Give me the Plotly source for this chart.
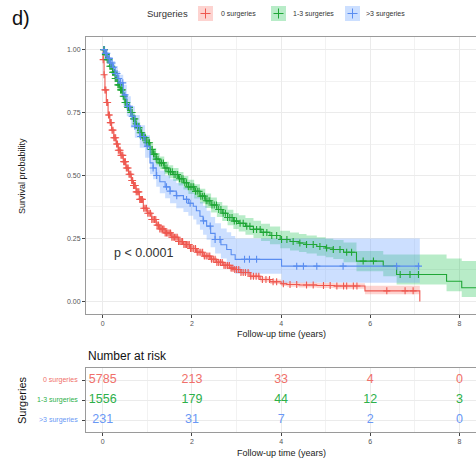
import numpy as np
import plotly.graph_objects as go

# ---------------- data ----------------
groups = ["0 surgeries", "1-3 surgeries", ">3 surgeries"]

red_time = [0, 0.01, 0.03, 0.05, 0.08, 0.12, 0.16, 0.20, 0.25, 0.30,
            0.35, 0.40, 0.46, 0.52, 0.58, 0.64, 0.69, 0.75, 0.82, 0.91,
            1.00, 1.10, 1.20, 1.28, 1.40, 1.55, 1.70, 1.81, 1.95, 2.10,
            2.25, 2.41, 2.55, 2.70, 2.85, 2.93, 3.10, 3.30, 3.53, 3.75,
            4.00, 4.13, 4.40, 4.80, 5.20, 5.88, 7.11]
red_surv = [1.00, 0.96, 0.90, 0.84, 0.79, 0.74, 0.71, 0.68, 0.65, 0.625,
            0.60, 0.58, 0.555, 0.53, 0.505, 0.48, 0.46, 0.435, 0.405, 0.37,
            0.35, 0.325, 0.303, 0.288, 0.272, 0.255, 0.238, 0.226, 0.21, 0.195,
            0.18, 0.167, 0.155, 0.143, 0.132, 0.127, 0.115, 0.10, 0.087, 0.078,
            0.07, 0.067, 0.065, 0.063, 0.061, 0.042, 0.0]
red_lo = [1.00, 0.95, 0.89, 0.83, 0.78, 0.73, 0.70, 0.67, 0.64, 0.615,
          0.59, 0.57, 0.545, 0.52, 0.495, 0.47, 0.45, 0.425, 0.395, 0.36,
          0.34, 0.315, 0.293, 0.278, 0.262, 0.245, 0.228, 0.216, 0.20, 0.185,
          0.17, 0.157, 0.145, 0.133, 0.122, 0.117, 0.105, 0.09, 0.078, 0.069,
          0.061, 0.058, 0.055, 0.053, 0.05, 0.028, 0.028]
red_hi = [1.00, 0.97, 0.91, 0.85, 0.80, 0.75, 0.72, 0.69, 0.66, 0.635,
          0.61, 0.59, 0.565, 0.54, 0.515, 0.49, 0.47, 0.445, 0.415, 0.38,
          0.36, 0.335, 0.313, 0.298, 0.282, 0.265, 0.248, 0.236, 0.22, 0.205,
          0.19, 0.177, 0.165, 0.153, 0.142, 0.137, 0.125, 0.11, 0.096, 0.087,
          0.079, 0.076, 0.075, 0.073, 0.072, 0.062, 0.062]
red_cens = [0.01, 0.03, 0.05, 0.07, 0.09, 0.11, 0.13, 0.15, 0.17, 0.19,
            0.21, 0.23, 0.25, 0.27, 0.29, 0.31, 0.33, 0.35, 0.37, 0.39,
            0.41, 0.43, 0.45, 0.47, 0.49, 0.51, 0.53, 0.55, 0.57, 0.59,
            0.61, 0.63, 0.65, 0.67, 0.69, 0.71, 0.73, 0.75, 0.77, 0.79,
            0.81, 0.83, 0.85, 0.87, 0.89, 0.92, 0.95, 0.98, 1.01, 1.04,
            1.07, 1.10, 1.13, 1.16, 1.19, 1.22, 1.25, 1.28, 1.31, 1.34,
            1.37, 1.40, 1.43, 1.46, 1.49, 1.52, 1.55, 1.58, 1.61, 1.64,
            1.67, 1.70, 1.73, 1.76, 1.79, 1.82, 1.85, 1.88, 1.91, 1.94,
            1.97, 2.00, 2.04, 2.08, 2.12, 2.16, 2.20, 2.24, 2.28, 2.32,
            2.36, 2.40, 2.44, 2.48, 2.52, 2.56, 2.60, 2.64, 2.68, 2.72,
            2.76, 2.80, 2.84, 2.88, 2.92, 2.96, 3.00, 3.05, 3.10, 3.15,
            3.20, 3.26, 3.32, 3.38, 3.44, 3.50, 3.58, 3.66, 3.74, 3.82,
            3.90, 4.05, 4.20, 4.35, 4.57, 4.72, 4.95, 5.10, 5.25, 5.40,
            5.47, 5.62, 5.70, 6.37, 6.78, 6.96]

green_time = [0, 0.05, 0.10, 0.16, 0.22, 0.28, 0.34, 0.39, 0.45, 0.50,
              0.55, 0.61, 0.67, 0.73, 0.78, 0.84, 0.90, 0.97, 1.06, 1.13,
              1.20, 1.28, 1.38, 1.48, 1.58, 1.70, 1.81, 1.92, 2.05, 2.18,
              2.30, 2.43, 2.56, 2.68, 2.80, 2.93, 3.05, 3.20, 3.38, 3.55,
              3.75, 3.98, 4.20, 4.40, 4.57, 4.80, 5.00, 5.17, 5.40, 5.69,
              6.29, 6.59, 7.71, 8.05, 8.60]
green_surv = [1.00, 0.98, 0.96, 0.934, 0.91, 0.885, 0.86, 0.84, 0.815, 0.79,
              0.77, 0.75, 0.725, 0.705, 0.69, 0.67, 0.65, 0.63, 0.603, 0.585,
              0.565, 0.55, 0.53, 0.515, 0.504, 0.487, 0.471, 0.455, 0.437, 0.418,
              0.40, 0.383, 0.365, 0.35, 0.333, 0.319, 0.31, 0.298, 0.286, 0.274,
              0.262, 0.246, 0.238, 0.232, 0.226, 0.218, 0.212, 0.206, 0.195, 0.16,
              0.14, 0.107, 0.08, 0.054, 0.054]
green_lo = [1.00, 0.972, 0.95, 0.922, 0.897, 0.871, 0.845, 0.824, 0.798, 0.773,
            0.752, 0.731, 0.705, 0.685, 0.669, 0.648, 0.628, 0.607, 0.58, 0.561,
            0.541, 0.525, 0.505, 0.489, 0.478, 0.46, 0.444, 0.427, 0.409, 0.389,
            0.371, 0.353, 0.335, 0.319, 0.302, 0.288, 0.278, 0.265, 0.252, 0.24,
            0.227, 0.211, 0.202, 0.196, 0.19, 0.181, 0.175, 0.168, 0.156, 0.12,
            0.10, 0.067, 0.04, 0.018, 0.018]
green_hi = [1.00, 0.988, 0.97, 0.946, 0.923, 0.899, 0.875, 0.856, 0.832, 0.807,
            0.788, 0.769, 0.745, 0.725, 0.711, 0.692, 0.672, 0.653, 0.626, 0.609,
            0.589, 0.575, 0.555, 0.541, 0.53, 0.514, 0.498, 0.483, 0.465, 0.447,
            0.429, 0.413, 0.395, 0.381, 0.364, 0.35, 0.342, 0.331, 0.32, 0.308,
            0.297, 0.281, 0.274, 0.268, 0.262, 0.255, 0.249, 0.244, 0.234, 0.20,
            0.186, 0.186, 0.17, 0.16, 0.16]
green_cens = [0.02, 0.04, 0.06, 0.08, 0.10, 0.12, 0.14, 0.16, 0.18, 0.20,
              0.22, 0.24, 0.26, 0.28, 0.30, 0.32, 0.34, 0.36, 0.38, 0.40,
              0.42, 0.44, 0.46, 0.48, 0.50, 0.52, 0.54, 0.56, 0.58, 0.60,
              0.63, 0.66, 0.69, 0.72, 0.75, 0.78, 0.81, 0.84, 0.87, 0.90,
              0.93, 0.96, 0.99, 1.02, 1.05, 1.08, 1.11, 1.14, 1.17, 1.20,
              1.24, 1.28, 1.32, 1.36, 1.40, 1.44, 1.48, 1.52, 1.56, 1.60,
              1.64, 1.68, 1.72, 1.76, 1.80, 1.84, 1.88, 1.92, 1.96, 2.00,
              2.04, 2.08, 2.12, 2.16, 2.20, 2.24, 2.28, 2.32, 2.36, 2.40,
              2.45, 2.50, 2.55, 2.60, 2.65, 2.70, 2.75, 2.80, 2.85, 2.90,
              2.95, 3.00, 3.08, 3.15, 3.23, 3.30, 3.38, 3.45, 3.53, 3.60,
              3.68, 3.79, 3.90, 4.01, 4.13, 4.27, 4.42, 4.57, 4.72, 4.87,
              5.02, 5.17, 5.32, 5.47, 5.58, 5.84, 6.07, 6.67, 6.89, 7.08]

blue_time = [0, 0.05, 0.10, 0.16, 0.22, 0.28, 0.34, 0.39, 0.46, 0.54,
             0.63, 0.72, 0.83, 0.95, 1.06, 1.13, 1.20, 1.28, 1.40, 1.51,
             1.65, 1.81, 1.92, 2.03, 2.10, 2.18, 2.25, 2.33, 2.42, 2.52,
             2.65, 2.78, 2.88, 2.97, 4.01, 7.11]
blue_surv = [1.00, 0.985, 0.965, 0.947, 0.93, 0.905, 0.885, 0.868, 0.82, 0.775,
             0.735, 0.696, 0.655, 0.616, 0.55, 0.53, 0.50, 0.475, 0.455, 0.438,
             0.42, 0.405, 0.39, 0.378, 0.36, 0.338, 0.32, 0.299, 0.27, 0.246,
             0.225, 0.206, 0.185, 0.167, 0.14, 0.14]
blue_lo = [1.00, 0.97, 0.945, 0.92, 0.90, 0.875, 0.85, 0.83, 0.78, 0.735,
           0.69, 0.65, 0.61, 0.57, 0.505, 0.485, 0.455, 0.43, 0.41, 0.39,
           0.37, 0.355, 0.34, 0.325, 0.305, 0.285, 0.265, 0.245, 0.215, 0.19,
           0.17, 0.15, 0.13, 0.11, 0.074, 0.074]
blue_hi = [1.00, 1.00, 0.985, 0.97, 0.955, 0.935, 0.915, 0.90, 0.86, 0.815,
           0.775, 0.74, 0.70, 0.66, 0.595, 0.575, 0.545, 0.52, 0.50, 0.485,
           0.47, 0.455, 0.44, 0.43, 0.415, 0.395, 0.38, 0.36, 0.335, 0.31,
           0.29, 0.275, 0.26, 0.25, 0.25, 0.25]
blue_cens = [0.03, 0.06, 0.09, 0.12, 0.15, 0.18, 0.21, 0.24, 0.28, 0.32,
             0.36, 0.40, 0.45, 0.50, 0.55, 0.60, 0.66, 0.72, 0.78, 0.85,
             0.92, 1.00, 1.13, 1.21, 1.43, 1.51, 1.66, 1.88, 1.96, 2.26,
             2.41, 2.52, 2.63, 3.18, 3.29, 3.45, 4.35, 4.50, 4.80, 5.39,
             6.59, 7.08]

risk_times = [0, 2, 4, 6, 8]
risk_0 = [5785, 213, 33, 4, 0]
risk_13 = [1556, 179, 44, 12, 3]
risk_gt3 = [231, 31, 7, 2, 0]

x_ticks = [0, 2, 4, 6, 8]
y_ticks = [0, 0.25, 0.5, 0.75, 1.0]
y_ticklabels = ["0.00", "0.25", "0.50", "0.75", "1.00"]

# ---------------- styling ----------------
W, H = 476, 462
FONT = "Liberation Sans, Arial, Helvetica, sans-serif"
line_cols = ["#EE5850", "#1FA636", "#5A8DF0"]
band_cols = ["rgba(248,118,109,0.32)", "rgba(0,186,56,0.28)", "rgba(97,156,255,0.32)"]
text_cols = ["#F0706A", "#2DB04A", "#6A98F5"]


def px(x):
    return x / W


def py(y):
    return 1 - y / H


def step_lookup(t, s, c):
    idx = np.searchsorted(np.asarray(t), np.asarray(c), side="right") - 1
    return np.asarray(s)[idx]


series = [
    (red_time, red_surv, red_lo, red_hi, red_cens),
    (green_time, green_surv, green_lo, green_hi, green_cens),
    (blue_time, blue_surv, blue_lo, blue_hi, blue_cens),
]

fig = go.Figure()

# confidence bands
for i, (t, s, lo, hi, c) in enumerate(series):
    fig.add_trace(go.Scatter(x=t, y=lo, mode="lines", line=dict(width=0, shape="hv"),
                             showlegend=False, hoverinfo="skip", xaxis="x", yaxis="y"))
    fig.add_trace(go.Scatter(x=t, y=hi, mode="lines", line=dict(width=0, shape="hv"),
                             fill="tonexty", fillcolor=band_cols[i],
                             showlegend=False, hoverinfo="skip", xaxis="x", yaxis="y"))

# survival curves + censor marks
for i, (t, s, lo, hi, c) in enumerate(series):
    fig.add_trace(go.Scatter(x=t, y=s, mode="lines", name=groups[i],
                             line=dict(color=line_cols[i], width=1.1, shape="hv"),
                             showlegend=False, xaxis="x", yaxis="y"))
    fig.add_trace(go.Scatter(x=c, y=step_lookup(t, s, c), mode="markers",
                             marker=dict(symbol="cross-thin", size=5,
                                         line=dict(color=line_cols[i], width=1.1)),
                             showlegend=False, hoverinfo="skip", xaxis="x", yaxis="y"))

# risk table
risk_rows = [risk_0, risk_13, risk_gt3]
row_pos = [3, 2, 1]
for i, vals in enumerate(risk_rows):
    fig.add_trace(go.Scatter(x=risk_times, y=[row_pos[i]] * len(vals), mode="text",
                             text=[str(v) for v in vals],
                             textfont=dict(size=12.5, color=text_cols[i], family=FONT),
                             showlegend=False, hoverinfo="skip", xaxis="x2", yaxis="y2"))

x_dom = [px(86), 1.0]
xrange = [-0.375, 8.37]
grid_c = "#EBEBEB"
axis_common = dict(showgrid=True, gridcolor=grid_c, gridwidth=1, zeroline=False,
                   ticks="outside", ticklen=3, tickcolor="#444", tickwidth=1,
                   tickfont=dict(size=7, color="#555", family=FONT),
                   showline=True, linecolor="#9a9a9a", linewidth=1)

fig.update_layout(
    width=W, height=H, margin=dict(l=0, r=0, t=0, b=0),
    paper_bgcolor="white", plot_bgcolor="white",
    font=dict(family=FONT),
    xaxis=dict(domain=x_dom, range=xrange, tickvals=x_ticks, anchor="y", mirror=True,
               minor=dict(tickvals=[1, 3, 5, 7], showgrid=True, gridcolor="#F2F2F2", ticks=""),
               **axis_common),
    yaxis=dict(domain=[py(314), py(37)], range=[-0.05, 1.05], tickvals=y_ticks,
               ticktext=y_ticklabels, anchor="x", mirror=False,
               minor=dict(tickvals=[0.125, 0.375, 0.625, 0.875], showgrid=True,
                          gridcolor="#F2F2F2", ticks=""),
               **axis_common),
    xaxis2=dict(domain=x_dom, range=xrange, tickvals=x_ticks, anchor="y2", mirror=True,
                minor=dict(tickvals=[1, 3, 5, 7], showgrid=True, gridcolor="#F2F2F2", ticks=""),
                **axis_common),
    yaxis2=dict(domain=[py(432), py(368)], range=[0.4, 3.6], tickvals=[1, 2, 3],
                showticklabels=False, anchor="x2", mirror=False, **axis_common),
)


def note(text, x, y, size, color, xanchor="center", angle=0, xref="paper", yref="paper"):
    return dict(text=text, x=x, y=y, xref=xref, yref=yref, xanchor=xanchor,
                yanchor="middle", textangle=angle, showarrow=False,
                font=dict(size=size, color=color, family=FONT))


ann = [note("d)", px(10), py(18), 20, "#111", xanchor="left")]
# legend (manual, ggplot style)
ann.append(note("Surgeries", px(145), py(14), 9.5, "#333", xanchor="left"))
key_left = [198, 271, 345]
label_left = [219, 291, 364]
shapes = []
for i in range(3):
    x0, x1, y0, y1 = key_left[i], key_left[i] + 15, 6, 21
    shapes.append(dict(type="rect", xref="paper", yref="paper",
                       x0=px(x0), x1=px(x1), y0=py(y1), y1=py(y0),
                       fillcolor=band_cols[i], line=dict(width=0)))
    cx, cy = (x0 + x1) / 2, (y0 + y1) / 2
    shapes.append(dict(type="line", xref="paper", yref="paper",
                       x0=px(cx - 5), x1=px(cx + 5), y0=py(cy), y1=py(cy),
                       line=dict(color=line_cols[i], width=1)))
    shapes.append(dict(type="line", xref="paper", yref="paper",
                       x0=px(cx), x1=px(cx), y0=py(cy - 5), y1=py(cy + 5),
                       line=dict(color=line_cols[i], width=1)))
    ann.append(note(groups[i], px(label_left[i]), py(14), 7, "#333", xanchor="left"))

ann.append(note("Survival probability", px(22), py(176), 9, "#222", angle=-90))
ann.append(note("Follow-up time (years)", px(281), py(334), 9, "#222"))
ann.append(note("p < 0.0001", 0.2, 0.193, 12.5, "#333", xanchor="left", xref="x", yref="y"))
ann.append(note("Number at risk", px(86), py(356), 12, "#111", xanchor="left"))
for i in range(3):
    ann.append(note(groups[i], px(80), row_pos[i], 7, text_cols[i], xanchor="right", yref="y2"))
ann.append(note("Surgeries", px(22), py(400), 11, "#111", angle=-90))
ann.append(note("Follow-up time (years)", px(281), py(453), 9, "#222"))

fig.update_layout(annotations=ann, shapes=shapes)
fig.write_html("out.html", config={"displayModeBar": False})
